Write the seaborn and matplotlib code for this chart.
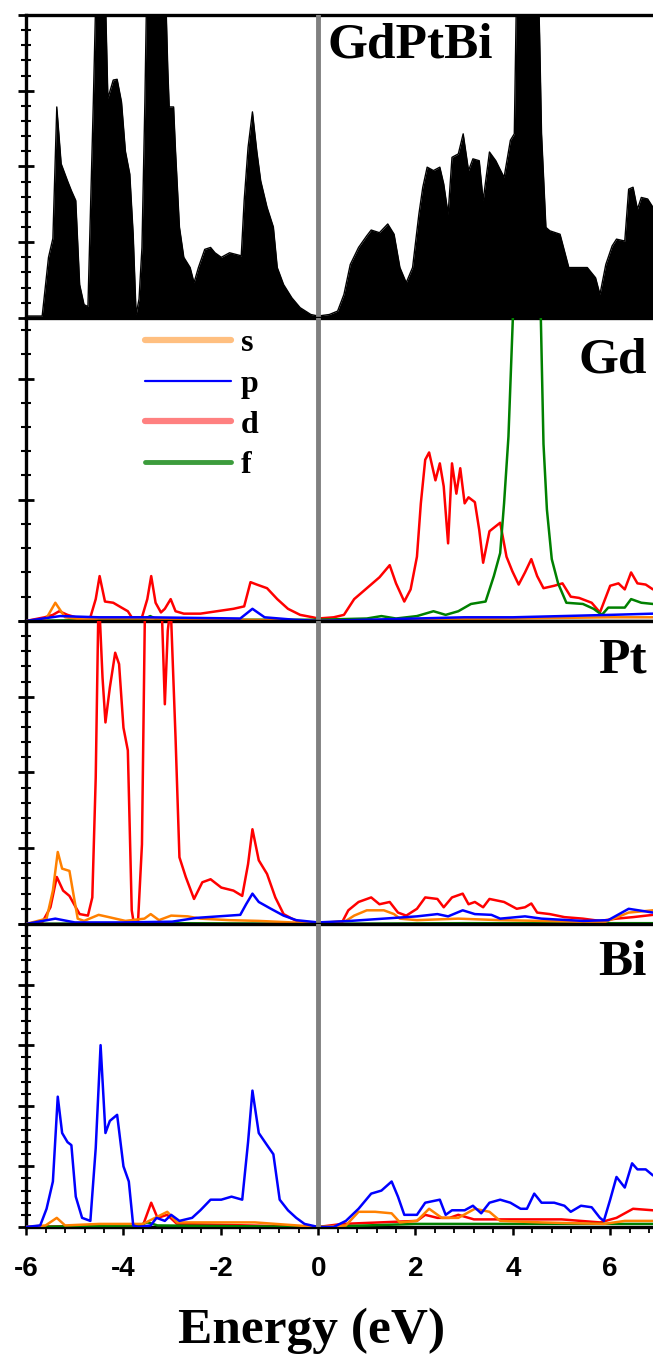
import numpy as np
import pandas as pd
import matplotlib
matplotlib.use('Agg')
import matplotlib.pyplot as plt
import seaborn as sns
from matplotlib.lines import Line2D
from matplotlib.ticker import MultipleLocator, NullFormatter

# ---------------- data ----------------
tot_E = [-6.0, -5.67, -5.54, -5.45, -5.37, -5.28, -5.15, -5.07, -4.98, -4.90, -4.81, -4.73,
         -4.62, -4.55, -4.45, -4.38, -4.32, -4.21, -4.13, -4.04, -3.96, -3.87, -3.80, -3.74,
         -3.68, -3.62, -3.56, -3.50, -3.35, -3.18, -3.12, -3.09, -3.06, -2.97, -2.93, -2.85,
         -2.76, -2.63, -2.55, -2.46, -2.33, -2.21, -2.12, -1.99, -1.82, -1.58, -1.52, -1.44,
         -1.35, -1.26, -1.18, -1.05, -0.92, -0.84, -0.71, -0.54, -0.37, -0.15, 0.0, 0.23,
         0.40, 0.53, 0.66, 0.83, 1.00, 1.09, 1.26, 1.43, 1.56, 1.68, 1.81, 1.94, 2.07, 2.15,
         2.24, 2.37, 2.50, 2.58, 2.67, 2.75, 2.88, 2.98, 3.09, 3.18, 3.31, 3.39, 3.52, 3.65,
         3.82, 3.95, 4.03, 4.08, 4.30, 4.50, 4.55, 4.59, 4.68, 4.76, 4.97, 5.15, 5.27, 5.53,
         5.70, 5.79, 5.91, 6.04, 6.13, 6.30, 6.38, 6.47, 6.56, 6.64, 6.77, 6.88]
tot_V = [0.05, 0.05, 1.6, 2.1, 5.57, 4.07, 3.62, 3.36, 3.1, 0.88, 0.35, 0.3,
         5.66, 9.5, 10.0, 9.0, 5.8, 6.28, 6.3, 5.7, 4.4, 3.8, 2.2, 0.09,
         0.5, 1.86, 5.7, 10.5, 12.0, 10.0, 8.0, 6.6, 5.57, 5.57, 4.4, 2.4,
         1.6, 1.33, 0.93, 1.33, 1.81, 1.86, 1.72, 1.6, 1.72, 1.64, 3.1, 4.5,
         5.44, 4.4, 3.62, 2.92, 2.4, 1.33, 0.88, 0.53, 0.27, 0.09, 0.05, 0.09,
         0.18, 0.62, 1.41, 1.86, 2.17, 2.32, 2.25, 2.48, 2.21, 1.33, 0.93, 1.33, 2.74, 3.45,
         3.98, 3.89, 3.98, 3.54, 2.74, 4.24, 4.33, 4.86, 3.89, 4.2, 4.15, 3.1, 4.38, 4.15,
         3.71, 4.69, 4.86, 9.0, 12.0, 10.0, 7.47, 4.86, 2.39, 2.3, 2.21, 1.33, 1.33, 1.33,
         1.06, 0.62, 1.41, 1.9, 2.08, 2.03, 3.4, 3.45, 2.87, 3.18, 3.14, 2.92]

# Gd
gd_d_E = [-6.0, -5.62, -5.45, -5.32, -5.15, -4.98, -4.68, -4.57, -4.49, -4.38, -4.21, -4.04,
          -3.91, -3.83, -3.62, -3.51, -3.43, -3.34, -3.23, -3.15, -3.03, -2.93, -2.76, -2.42,
          -2.08, -1.74, -1.52, -1.39, -1.26, -1.05, -0.84, -0.62, -0.37, -0.11, 0.0, 0.32,
          0.53, 0.74, 1.00, 1.26, 1.47, 1.60, 1.77, 1.90, 2.03, 2.11, 2.20, 2.28, 2.41, 2.50,
          2.58, 2.67, 2.75, 2.84, 2.92, 3.01, 3.09, 3.22, 3.31, 3.39, 3.52, 3.74, 3.87, 3.99,
          4.12, 4.25, 4.38, 4.50, 4.63, 4.85, 5.02, 5.19, 5.36, 5.62, 5.79, 6.00, 6.17, 6.30,
          6.43, 6.56, 6.73, 6.88]
gd_d_V = [0.0, 0.03, 0.05, 0.08, 0.05, 0.03, 0.03, 0.18, 0.37, 0.16, 0.15, 0.11,
          0.08, 0.03, 0.03, 0.18, 0.37, 0.15, 0.07, 0.10, 0.18, 0.08, 0.06, 0.06,
          0.08, 0.10, 0.12, 0.32, 0.30, 0.27, 0.18, 0.10, 0.05, 0.03, 0.02, 0.03,
          0.05, 0.18, 0.27, 0.36, 0.46, 0.31, 0.16, 0.26, 0.53, 0.97, 1.33, 1.39, 1.16, 1.30,
          1.11, 0.64, 1.30, 1.05, 1.26, 0.97, 1.02, 0.98, 0.75, 0.48, 0.74, 0.81, 0.53, 0.41,
          0.30, 0.40, 0.51, 0.37, 0.27, 0.29, 0.31, 0.20, 0.19, 0.15, 0.07, 0.29, 0.31, 0.26,
          0.40, 0.31, 0.30, 0.26]
gd_f_E = [-6.0, -4.0, -3.6, -3.45, -3.3, -2.0, 0.0, 1.0, 1.3, 1.6, 2.03, 2.37, 2.62, 2.88,
          3.14, 3.44, 3.61, 3.74, 3.82, 3.91, 4.01, 4.10, 4.30, 4.50, 4.57, 4.63, 4.70, 4.80,
          4.93, 5.10, 5.44, 5.66, 5.83, 5.96, 6.30, 6.43, 6.64, 6.88]
gd_f_V = [0.0, 0.01, 0.01, 0.04, 0.01, 0.01, 0.01, 0.02, 0.04, 0.02, 0.04, 0.08, 0.05, 0.08,
          0.14, 0.16, 0.37, 0.56, 0.97, 1.52, 2.6, 3.5, 3.0, 3.5, 2.6, 1.46, 0.92, 0.51,
          0.31, 0.15, 0.14, 0.10, 0.05, 0.11, 0.11, 0.18, 0.15, 0.14]
gd_s_E = [-6.0, -5.6, -5.4, -5.2, -4.8, -4.5, -3.5, 0.0, 2.0, 4.0, 6.0, 6.88]
gd_s_V = [0.0, 0.01, 0.15, 0.03, 0.01, 0.02, 0.02, 0.0, 0.01, 0.02, 0.03, 0.03]
gd_p_E = [-6.0, -5.3, -4.5, -3.5, -1.6, -1.35, -1.1, -0.5, 0.0, 2.0, 3.0, 4.0, 5.0, 6.0, 6.88]
gd_p_V = [0.0, 0.04, 0.03, 0.03, 0.02, 0.10, 0.03, 0.01, 0.0, 0.02, 0.03, 0.03, 0.04, 0.05, 0.06]

# Pt
pt_d_E = [-6.0, -5.67, -5.50, -5.37, -5.24, -5.11, -4.98, -4.90, -4.73, -4.64, -4.57, -4.51,
          -4.43, -4.37, -4.28, -4.17, -4.09, -4.00, -3.91, -3.83, -3.79, -3.70, -3.62, -3.55,
          -3.40, -3.23, -3.15, -3.09, -3.03, -2.93, -2.85, -2.72, -2.55, -2.38, -2.21, -1.99,
          -1.74, -1.56, -1.44, -1.35, -1.22, -1.05, -0.88, -0.71, -0.54, -0.37, 0.0, 0.49,
          0.62, 0.83, 1.09, 1.26, 1.47, 1.64, 1.81, 2.03, 2.20, 2.45, 2.58, 2.75, 2.97, 3.09,
          3.22, 3.39, 3.52, 3.82, 4.08, 4.25, 4.38, 4.50, 4.76, 5.06, 5.44, 5.79, 6.13, 6.47,
          6.88]
pt_d_V = [0.0, 0.02, 0.22, 0.62, 0.44, 0.37, 0.22, 0.13, 0.11, 0.35, 1.93, 4.4,
          3.25, 2.66, 3.12, 3.58, 3.43, 2.59, 2.29, 0.18, 0.02, 0.04, 1.05, 4.6,
          5.0, 4.5, 2.9, 3.87, 4.2, 2.46, 0.88, 0.62, 0.33, 0.55, 0.59, 0.48,
          0.44, 0.37, 0.79, 1.25, 0.84, 0.66, 0.35, 0.13, 0.07, 0.02, 0.01, 0.02,
          0.18, 0.29, 0.35, 0.26, 0.29, 0.15, 0.11, 0.20, 0.35, 0.33, 0.22, 0.35, 0.40, 0.26,
          0.29, 0.22, 0.33, 0.29, 0.20, 0.22, 0.27, 0.15, 0.13, 0.09, 0.07, 0.04, 0.07, 0.09,
          0.12]
pt_s_E = [-6.0, -5.58, -5.45, -5.35, -5.26, -5.11, -5.03, -4.94, -4.81, -4.51, -4.30, -3.96,
          -3.57, -3.44, -3.27, -3.02, -2.68, -2.42, -1.82, -1.22, -0.54, 0.0, 0.57, 0.74,
          1.00, 1.35, 1.56, 1.68, 2.03, 2.88, 3.74, 4.59, 5.87, 6.38, 6.88]
pt_s_V = [0.0, 0.07, 0.44, 0.95, 0.73, 0.70, 0.40, 0.07, 0.04, 0.12, 0.09, 0.04,
          0.07, 0.13, 0.05, 0.11, 0.10, 0.07, 0.05, 0.04, 0.02, 0.01, 0.04, 0.11,
          0.18, 0.18, 0.13, 0.07, 0.05, 0.07, 0.05, 0.04, 0.02, 0.15, 0.18]
pt_p_E = [-6.0, -5.4, -5.0, -4.0, -3.0, -2.5, -1.6, -1.48, -1.35, -1.22, -0.97, -0.71, -0.45,
          0.0, 0.66, 2.03, 2.45, 2.67, 2.97, 3.22, 3.56, 3.74, 4.25, 4.59, 5.44, 5.96, 6.38,
          6.88]
pt_p_V = [0.0, 0.07, 0.02, 0.02, 0.03, 0.08, 0.12, 0.26, 0.40, 0.29, 0.20, 0.11, 0.05,
          0.02, 0.04, 0.10, 0.13, 0.10, 0.18, 0.13, 0.12, 0.07, 0.10, 0.07, 0.04, 0.05, 0.20,
          0.15]
pt_f_E = [-6.0, -3.0, 0.0, 3.0, 6.88]
pt_f_V = [0.0, 0.01, 0.0, 0.01, 0.01]

# Bi
bi_p_E = [-6.0, -5.71, -5.58, -5.45, -5.35, -5.26, -5.15, -5.07, -4.98, -4.85, -4.68, -4.57,
          -4.47, -4.37, -4.28, -4.13, -4.00, -3.89, -3.80, -3.70, -3.44, -3.32, -3.15, -3.02,
          -2.85, -2.59, -2.42, -2.21, -1.99, -1.78, -1.56, -1.44, -1.35, -1.22, -1.05, -0.92,
          -0.79, -0.62, -0.45, -0.28, 0.0, 0.32, 0.57, 0.83, 1.09, 1.30, 1.51, 1.64, 1.77,
          2.03, 2.20, 2.50, 2.62, 2.75, 3.01, 3.18, 3.35, 3.52, 3.74, 3.95, 4.16, 4.29, 4.44,
          4.59, 4.85, 5.06, 5.19, 5.40, 5.62, 5.79, 5.87, 6.00, 6.13, 6.30, 6.45, 6.56, 6.73,
          6.88]
bi_p_V = [0.0, 0.005, 0.06, 0.15, 0.43, 0.31, 0.28, 0.27, 0.10, 0.03, 0.02, 0.26,
          0.60, 0.31, 0.35, 0.37, 0.20, 0.15, 0.005, 0.0, 0.005, 0.03, 0.02, 0.04,
          0.02, 0.03, 0.055, 0.09, 0.09, 0.10, 0.09, 0.28, 0.45, 0.31, 0.27, 0.24,
          0.09, 0.055, 0.03, 0.01, 0.0, 0.0, 0.02, 0.06, 0.11, 0.12, 0.15, 0.10, 0.04,
          0.04, 0.08, 0.09, 0.04, 0.055, 0.055, 0.07, 0.045, 0.08, 0.09, 0.08, 0.06, 0.06, 0.11,
          0.08, 0.08, 0.07, 0.05, 0.07, 0.065, 0.03, 0.02, 0.09, 0.165, 0.13, 0.21, 0.19, 0.19,
          0.17]
bi_s_E = [-6.0, -5.6, -5.37, -5.2, -4.5, -3.6, -3.1, -2.9, -2.5, -1.3, 0.0, 0.57, 0.83, 1.17,
          1.51, 1.68, 2.03, 2.28, 2.54, 2.88, 3.22, 3.52, 3.74, 4.59, 5.87, 6.30, 6.88]
bi_s_V = [0.0, 0.005, 0.03, 0.005, 0.01, 0.01, 0.05, 0.015, 0.015, 0.015, 0.0, 0.005, 0.05, 0.05,
          0.045, 0.015, 0.02, 0.06, 0.03, 0.03, 0.06, 0.05, 0.02, 0.015, 0.01, 0.02, 0.02]
bi_d_E = [-6.0, -4.0, -3.6, -3.43, -3.3, -3.1, -2.9, 0.0, 0.5, 2.03, 2.20, 2.45, 2.70, 2.88,
          3.20, 4.0, 5.0, 5.79, 6.13, 6.47, 6.88]
bi_d_V = [0.0, 0.005, 0.005, 0.08, 0.03, 0.04, 0.01, 0.0, 0.01, 0.02, 0.04, 0.03, 0.03, 0.04,
          0.025, 0.025, 0.025, 0.015, 0.03, 0.06, 0.055]
bi_f_E = [-6.0, -3.7, -3.5, -3.3, 0.0, 2.0, 4.0, 6.88]
bi_f_V = [0.0, 0.005, 0.015, 0.005, 0.0, 0.01, 0.01, 0.01]

orbitals = ['s', 'p', 'd', 'f']
orb_colors = {'s': '#ff8000', 'p': '#0000ff', 'd': '#ff0000', 'f': '#008000'}
legend_colors = {'s': '#ffbf80', 'p': '#0000ff', 'd': '#ff8080', 'f': '#3c9c3c'}
panel_names = ['GdPtBi', 'Gd', 'Pt', 'Bi']
tick_vals = [-6, -4, -2, 0, 2, 4, 6]
tick_labels = ['-6', '-4', '-2', '0', '2', '4', '6']

# ---------------- style ----------------
sns.set_style('white')
plt.rcParams['font.family'] = ['Liberation Serif', 'DejaVu Serif']
plt.rcParams['text.color'] = 'black'
plt.rcParams['axes.labelcolor'] = 'black'
plt.rcParams['xtick.color'] = 'black'
plt.rcParams['ytick.color'] = 'black'
plt.rcParams['xtick.major.pad'] = 15

fig, axes = plt.subplots(4, 1, figsize=(6.53, 13.55), dpi=100, sharex=True,
                         gridspec_kw=dict(hspace=0))
fig.subplots_adjust(left=0.04, right=1.0, top=0.989, bottom=0.0945)

# ---- total DOS ----
ax0 = axes[0]
tot_df = pd.DataFrame({'E': tot_E, 'DOS': tot_V})
ax0.fill_between(tot_df['E'], 0, tot_df['DOS'], color='black', lw=0, zorder=2)
sns.lineplot(data=tot_df, x='E', y='DOS', color='black', lw=1.0, ax=ax0,
             estimator=None, sort=False, zorder=2)

# ---- partial DOS ----
pdos = {
    'Gd': {'s': (gd_s_E, gd_s_V), 'p': (gd_p_E, gd_p_V), 'd': (gd_d_E, gd_d_V), 'f': (gd_f_E, gd_f_V)},
    'Pt': {'s': (pt_s_E, pt_s_V), 'p': (pt_p_E, pt_p_V), 'd': (pt_d_E, pt_d_V), 'f': (pt_f_E, pt_f_V)},
    'Bi': {'s': (bi_s_E, bi_s_V), 'p': (bi_p_E, bi_p_V), 'd': (bi_d_E, bi_d_V), 'f': (bi_f_E, bi_f_V)},
}
draw_order = ['d', 'f', 's', 'p']
for ax, name in zip(axes[1:], ['Gd', 'Pt', 'Bi']):
    for orb in draw_order:
        E, V = pdos[name][orb]
        df = pd.DataFrame({'E': E, 'DOS': V})
        sns.lineplot(data=df, x='E', y='DOS', color=orb_colors[orb], lw=1.8, ax=ax,
                     estimator=None, sort=False, zorder=3)

ylims = [(0, 8, 2), (0, 2.5, 1), (0, 4, 1), (0, 1.0, 0.2)]
for ax, (lo, hi, step), name in zip(axes, ylims, panel_names):
    ax.set_xlim(-6, 6.88)
    ax.set_ylim(lo, hi)
    ax.axvline(0, color='#808080', lw=3.5, zorder=4)
    ax.yaxis.set_major_locator(MultipleLocator(step))
    ax.yaxis.set_minor_locator(MultipleLocator(step / 5))
    ax.yaxis.set_major_formatter(NullFormatter())
    ax.xaxis.set_major_locator(MultipleLocator(2))
    ax.xaxis.set_minor_locator(MultipleLocator(0.4))
    ax.tick_params(axis='y', which='major', direction='inout', length=12, width=2, left=True)
    ax.tick_params(axis='y', which='minor', direction='inout', length=7, width=1.5, left=True)
    ax.tick_params(axis='x', which='major', direction='out', length=6, width=1.8, bottom=True,
                   pad=15)
    ax.tick_params(axis='x', which='minor', direction='out', length=4, width=1.3, bottom=True)
    for side in ['left', 'top', 'bottom']:
        ax.spines[side].set_linewidth(2.4)
        ax.spines[side].set_color('black')
    ax.spines['right'].set_visible(False)
    ax.set_ylabel('')
    ax.set_xlabel('')

axes[0].text(0.2, 0.90, 'GdPtBi', transform=axes[0].get_xaxis_transform(), ha='left',
             va='center', fontsize=37, fontweight='bold', color='black', zorder=6)
for ax, name, yy in zip(axes[1:], ['Gd', 'Pt', 'Bi'], [0.86, 0.868, 0.87]):
    ax.text(6.75, yy, name, transform=ax.get_xaxis_transform(), ha='right', va='center',
            fontsize=37, fontweight='bold', color='black', zorder=6)

handles = [Line2D([], [], color=legend_colors['s'], lw=4.5),
           Line2D([], [], color=legend_colors['p'], lw=1.6),
           Line2D([], [], color=legend_colors['d'], lw=4.5),
           Line2D([], [], color=legend_colors['f'], lw=3.5)]
axes[1].legend(handles, orbitals, loc='upper left', bbox_to_anchor=(0.19, 0.965),
               frameon=False, prop=dict(family='Liberation Serif', weight='bold', size=23),
               handlelength=2.7, handletextpad=0.3, labelspacing=0.36, borderpad=0,
               borderaxespad=0, labelcolor='black')

axb = axes[-1]
axb.set_xticks(tick_vals)
axb.set_xticklabels(tick_labels)
for lab in axb.get_xticklabels():
    lab.set_fontfamily(['Liberation Sans', 'DejaVu Sans'])
    lab.set_fontweight('bold')
    lab.set_fontsize(20)
    lab.set_color('black')
axb.set_xlabel('Energy (eV)', fontsize=37, fontweight='bold', color='black')
axb.xaxis.set_label_coords(0.455, -0.265)

fig.savefig('out.png', dpi=100)
